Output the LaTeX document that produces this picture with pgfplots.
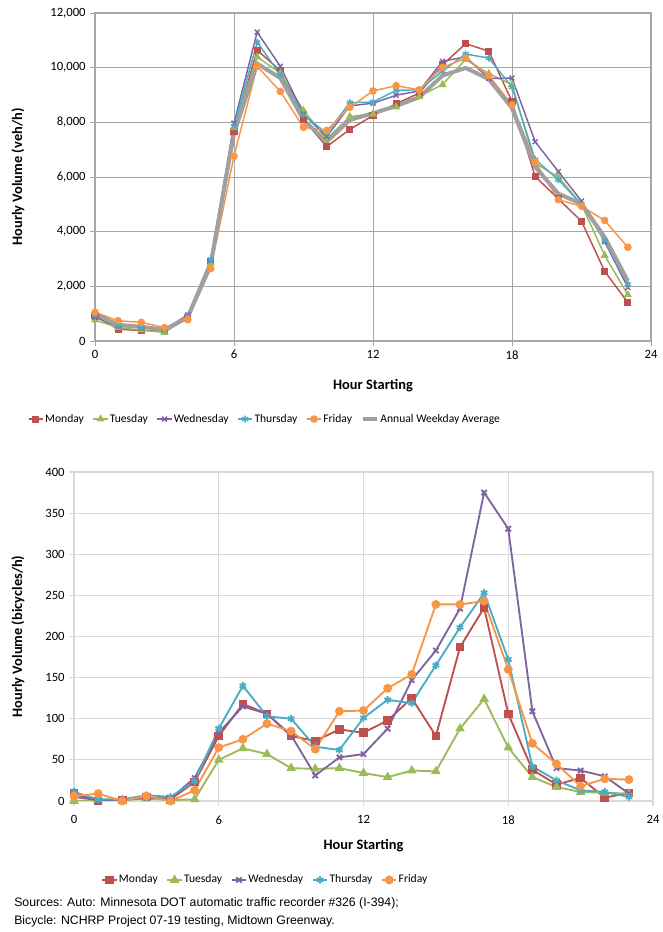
\documentclass[border=0pt]{standalone}
\usepackage{fontspec}
\setmainfont{Carlito}
\newfontfamily\arialfont{Liberation Sans}
\usepackage{pgfplots}
\usepackage{pgfplotstable}
\pgfplotsset{compat=1.18}
\definecolor{cMon}{HTML}{C0504D}
\definecolor{cTue}{HTML}{9BBB59}
\definecolor{cWed}{HTML}{8064A2}
\definecolor{cThu}{HTML}{4BACC6}
\definecolor{cFri}{HTML}{F79646}
\definecolor{cAvg}{HTML}{A0A0A0}
\definecolor{gridTop}{HTML}{A6A6A6}
\definecolor{gridBot}{HTML}{D9D9D9}

\pgfplotstableread{
h mon tue wed thu fri avg
0 925 765 860 950 1050 990
1 430 490 550 560 740 590
2 380 400 480 500 680 520
3 380 310 420 400 490 410
4 860 850 960 900 780 860
5 2900 2850 2950 2990 2650 2840
6 7680 7800 7970 7850 6760 7600
7 10640 10390 11300 10930 10050 10150
8 9890 9800 10050 9740 9130 9620
9 8100 8430 8300 8270 7820 8090
10 7110 7400 7480 7600 7700 7290
11 7740 8210 8600 8720 8550 8090
12 8250 8300 8700 8740 9150 8330
13 8680 8560 8990 9170 9340 8600
14 9070 8950 9150 9190 9190 8920
15 10100 9380 10230 9870 10010 9710
16 10880 10300 10400 10500 10350 9990
17 10600 9780 9600 10350 9710 9580
18 8760 9380 9620 9290 8640 8520
19 6020 6500 7290 6640 6560 6370
20 5200 6000 6200 5900 5170 5390
21 4380 5000 5120 5000 4930 5020
22 2550 3130 3630 3680 4410 3800
23 1410 1690 1960 2080 3430 2200
}\autodata

\pgfplotstableread{
h mon tue wed thu fri
0 9 0 5 11 6
1 0 1 1 2 9
2 1 1 1 2 0
3 5 3 4 7 6
4 2 1 3 5 0
5 23 2 28 24 13
6 79 50 83 88 65
7 118 64 115 140 75
8 106 57 106 103 94
9 79 40 80 100 85
10 73 39 31 66 63
11 87 40 53 62 109
12 83 34 57 101 110
13 98 29 88 123 137
14 125 37 147 119 154
15 79 36 183 165 239
16 187 88 234 211 239
17 235 124 375 253 243
18 106 65 331 172 160
19 38 29 109 42 70
20 20 17 40 25 45
21 28 11 37 13 18
22 4 10 30 11 27
23 10 9 9 5 26
}\bikedata

\pgfplotsset{
  legend image code/.code={%
    \draw[mark repeat=2,mark phase=2,#1] plot coordinates {(0cm,0cm) (0.19cm,0cm) (0.38cm,0cm)};},
  base/.style={
    scale only axis,
    xmin=0, xmax=24,
    xtick={0,6,12,18,24},
    tick pos=left, tick align=outside, major tick length=3.5pt,
    grid=major,
    tick label style={font=\fontsize{9.5}{11}\selectfont, black},
    label style={font=\bfseries\fontsize{10.8}{12}\selectfont},
    /pgf/number format/assume math mode=true,
    /pgf/number format/1000 sep={,},
    legend cell align=left,
    legend style={draw=none, fill=none, font=\fontsize{8.7}{10}\selectfont,
      legend columns=-1,
      /tikz/every even column/.append style={column sep=5.5pt},
      nodes={inner xsep=1pt},
      inner sep=0pt},
  },
}

\begin{document}
\begin{tikzpicture}
\path[use as bounding box] (0,0) rectangle (496.5pt,699pt);

% ---------- top chart ----------
\begin{axis}[base,
  at={(71.25pt,443.25pt)}, anchor=south west,
  width=417pt, height=246pt,
  ymin=0, ymax=12000, ytick={0,2000,...,12000},
  scaled y ticks=false,
  major grid style={color=gridTop, line width=0.7pt},
  axis line style={color=gridTop, line width=0.8pt},
  tick style={color=gridTop, line width=0.7pt},
  xlabel={Hour Starting},
  ylabel={Hourly Volume (veh/h)},
  xlabel style={at={(axis description cs:0.5,-0.137)}, anchor=center},
  ylabel style={at={(axis description cs:-0.1385,0.5)}, anchor=center},
  legend style={at={(axis description cs:0.305,-0.238)}, anchor=center},
]
\addplot[color=cMon, line width=1.1pt, mark=square*, mark size=2.1pt] table[x=h,y=mon]{\autodata};
\addlegendentry{Monday}
\addplot[color=cTue, line width=1.1pt, mark=triangle*, mark size=2.5pt] table[x=h,y=tue]{\autodata};
\addlegendentry{Tuesday}
\addplot[color=cWed, line width=1.1pt, mark=x, mark size=2.6pt] table[x=h,y=wed]{\autodata};
\addlegendentry{Wednesday}
\addplot[color=cThu, line width=1.1pt, mark=asterisk, mark size=2.6pt] table[x=h,y=thu]{\autodata};
\addlegendentry{Thursday}
\addplot[color=cFri, line width=1.1pt, mark=*, mark size=2.3pt] table[x=h,y=fri]{\autodata};
\addlegendentry{Friday}
\addplot[color=cAvg, line width=3pt, no marks] table[x=h,y=avg]{\autodata};
\addlegendentry{Annual Weekday Average}
\end{axis}

% ---------- bottom chart ----------
\begin{axis}[base,
  at={(55.5pt,98.25pt)}, anchor=south west,
  width=434.25pt, height=246.75pt,
  ymin=0, ymax=400, ytick={0,50,...,400},
  major grid style={color=gridBot, line width=0.8pt},
  axis line style={color=gridBot, line width=0.8pt},
  tick style={color=gridBot, line width=0.8pt},
  xticklabel style={yshift=-4pt},
  xlabel={Hour Starting},
  ylabel={Hourly Volume (bicycles/h)},
  xlabel style={at={(axis description cs:0.5,-0.137)}, anchor=center},
  ylabel style={at={(axis description cs:-0.0967,0.5)}, anchor=center},
  legend style={at={(axis description cs:0.33,-0.24)}, anchor=center},
]
\addplot[color=cMon, line width=1.4pt, mark=square*, mark size=2.5pt] table[x=h,y=mon]{\bikedata};
\addlegendentry{Monday}
\addplot[color=cTue, line width=1.4pt, mark=triangle*, mark size=2.8pt] table[x=h,y=tue]{\bikedata};
\addlegendentry{Tuesday}
\addplot[color=cWed, line width=1.4pt, mark=x, mark size=2.8pt] table[x=h,y=wed]{\bikedata};
\addlegendentry{Wednesday}
\addplot[color=cThu, line width=1.4pt, mark=asterisk, mark size=2.8pt] table[x=h,y=thu]{\bikedata};
\addlegendentry{Thursday}
\addplot[color=cFri, line width=1.4pt, mark=*, mark size=2.6pt] table[x=h,y=fri]{\bikedata};
\addlegendentry{Friday}
\end{axis}

\node[anchor=west, inner sep=0pt, font=\arialfont\fontsize{9.2}{10}\selectfont] at (10.5pt,21.75pt)
  {Sources: Auto: Minnesota DOT automatic traffic recorder \#326 (I-394);};
\node[anchor=west, inner sep=0pt, font=\arialfont\fontsize{9.2}{10}\selectfont] at (10.5pt,8.25pt)
  {Bicycle: NCHRP Project 07-19 testing, Midtown Greenway.};
\end{tikzpicture}
\end{document}
